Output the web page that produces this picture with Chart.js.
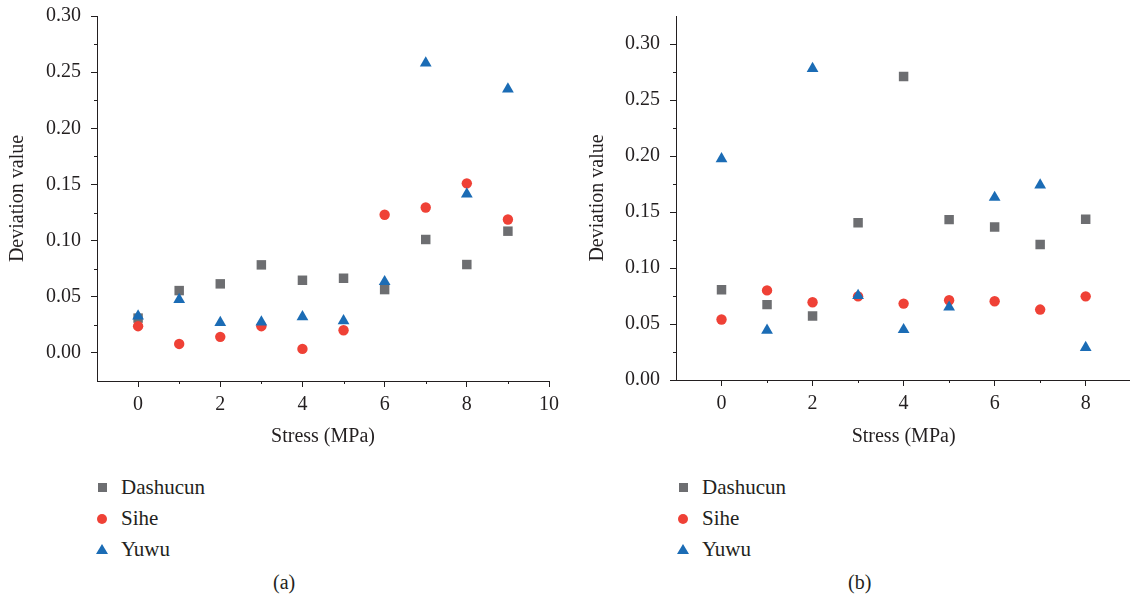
<!DOCTYPE html>
<html>
<head>
<meta charset="utf-8">
<script src="https://cdn.jsdelivr.net/npm/chart.js@4/dist/chart.umd.min.js"></script>
<style>
  html, body { margin: 0; padding: 0; background: #fff; overflow: hidden; }
  body { width: 1130px; height: 601px; position: relative; font-family: "Liberation Serif", "DejaVu Serif", serif; color: #231f20; }
  canvas { position: absolute; top: 0; }
  #chart-a { left: 0; }
  #chart-b { left: 570px; }
  .legend { position: absolute; top: 474px; font-size: 21px; }
  .legend .row { position: relative; height: 31px; line-height: 26px; padding-left: 24px; }
  .legend .mk { position: absolute; left: 0; }
  .mk.sq { width: 9px; height: 9px; top: 9px; left: 1px; background: #6d6e71; }
  .mk.ci { width: 10px; height: 10px; top: 9px; left: 0; border-radius: 50%; background: #ef4136; }
  .mk.tr { width: 0; height: 0; top: 8px; left: -1px; border-left: 6px solid transparent; border-right: 6px solid transparent; border-bottom: 10px solid #1b6cb5; }
  .caption { position: absolute; top: 571px; font-size: 20px; }
</style>
</head>
<body>
<canvas id="chart-a" width="560" height="460"></canvas>
<canvas id="chart-b" width="568" height="460"></canvas>

<div class="legend" style="left:97px">
  <div class="row"><span class="mk sq"></span>Dashucun</div>
  <div class="row"><span class="mk ci"></span>Sihe</div>
  <div class="row"><span class="mk tr"></span>Yuwu</div>
</div>
<div class="legend" style="left:678px">
  <div class="row"><span class="mk sq"></span>Dashucun</div>
  <div class="row"><span class="mk ci"></span>Sihe</div>
  <div class="row"><span class="mk tr"></span>Yuwu</div>
</div>
<div class="caption" style="left:273px">(a)</div>
<div class="caption" style="left:848px">(b)</div>

<script>
// (a) stress steps 0..9
const stressA = [0, 1, 2, 3, 4, 5, 6, 7, 8, 9];
const dashucunA = [0.031, 0.0555, 0.0615, 0.0784, 0.0647, 0.0665, 0.0564, 0.101, 0.0787, 0.1084];
const siheA = [0.0238, 0.008, 0.0143, 0.0238, 0.0036, 0.0202, 0.123, 0.1295, 0.151, 0.1188];
const yuwuA = [0.0328, 0.0475, 0.0271, 0.0275, 0.0322, 0.0285, 0.0634, 0.258, 0.1415, 0.235];

// (b) stress steps 0..8
const stressB = [0, 1, 2, 3, 4, 5, 6, 7, 8];
const dashucunB = [0.0806, 0.0673, 0.0572, 0.1405, 0.271, 0.1432, 0.1367, 0.121, 0.1435];
const siheB = [0.054, 0.080, 0.0694, 0.0747, 0.0682, 0.0712, 0.0703, 0.0629, 0.0747];
const yuwuB = [0.1975, 0.0443, 0.278, 0.0754, 0.0449, 0.065, 0.163, 0.174, 0.029];

// axis ticks
const xTicksA = [0, 2, 4, 6, 8, 10];
const xMinorA = [1, 3, 5, 7, 9];
const xTicksB = [0, 2, 4, 6, 8];
const xMinorB = [1, 3, 5, 7];
const yTicks = [0, 0.05, 0.10, 0.15, 0.20, 0.25, 0.30];
const yMinor = [0.025, 0.075, 0.125, 0.175, 0.225, 0.275];

const INK = '#231f20';
const GRAY = '#6d6e71', RED = '#ef4136', BLUE = '#1b6cb5';
const FONT = { family: '"Liberation Serif", "DejaVu Serif", serif', size: 20 };

// short outward ticks between the labelled ones
const minorTicks = {
  id: 'minorTicks',
  afterDraw(chart, args, opts) {
    const { ctx, scales: { x, y } } = chart;
    ctx.save();
    ctx.strokeStyle = INK;
    ctx.lineWidth = 1;
    ctx.beginPath();
    (opts.x || []).forEach(v => {
      const px = Math.round(x.getPixelForValue(v)) + 0.5;
      ctx.moveTo(px, x.top); ctx.lineTo(px, x.top + 3);
    });
    (opts.y || []).forEach(v => {
      const py = Math.round(y.getPixelForValue(v)) + 0.5;
      ctx.moveTo(y.right, py); ctx.lineTo(y.right - 3, py);
    });
    ctx.stroke();
    ctx.restore();
  }
};

const pts = (xs, ys) => xs.map((x, i) => ({ x, y: ys[i] }));

function series(xs, d, s, y) {
  return [
    { label: 'Dashucun', data: pts(xs, d), pointStyle: 'rect', pointRadius: 6.7, backgroundColor: GRAY, borderWidth: 0, order: 3 },
    { label: 'Sihe', data: pts(xs, s), pointStyle: 'circle', pointRadius: 5.2, backgroundColor: RED, borderWidth: 0, order: 2 },
    { label: 'Yuwu', data: pts(xs, y), pointStyle: 'triangle', pointRadius: 6.8, backgroundColor: BLUE, borderWidth: 0, order: 1 }
  ];
}

// labels may hang past the plot edges, don't let them shrink the plot
function noOverflow(sc) {
  sc.paddingTop = 0; sc.paddingBottom = 0;
  sc.paddingLeft = 0; sc.paddingRight = 0;
}

function makeChart(id, cfg) {
  return new Chart(document.getElementById(id), {
    type: 'scatter',
    data: { datasets: series(cfg.xs, cfg.d, cfg.s, cfg.y) },
    options: {
      responsive: false,
      animation: false,
      devicePixelRatio: 1,
      layout: { padding: { top: 16, right: cfg.padRight, left: 0, bottom: 0 } },
      plugins: {
        legend: { display: false },
        tooltip: { enabled: false },
        minorTicks: { x: cfg.xMinor, y: yMinor }
      },
      scales: {
        x: {
          type: 'linear', min: -1, max: cfg.xMax,
          afterBuildTicks: sc => { sc.ticks = cfg.xTicks.map(v => ({ value: v })); },
          afterFit: sc => { sc.height = cfg.xHeight; noOverflow(sc); },
          grid: { drawOnChartArea: false, tickLength: 6, color: INK },
          border: { color: INK, width: 1 },
          ticks: { color: INK, font: FONT, padding: 6, maxRotation: 0 },
          title: { display: true, text: 'Stress (MPa)', color: INK, font: FONT, padding: { top: 0, bottom: 11 } }
        },
        y: {
          type: 'linear', min: cfg.yMin, max: cfg.yMax,
          afterBuildTicks: sc => { sc.ticks = yTicks.map(v => ({ value: v })); },
          afterFit: sc => { sc.width = cfg.yWidth; noOverflow(sc); },
          grid: { drawOnChartArea: false, tickLength: 6, color: INK },
          border: { color: INK, width: 1 },
          ticks: { color: INK, font: FONT, padding: 10, callback: v => v.toFixed(2) },
          title: { display: true, text: 'Deviation value', color: INK, font: FONT, padding: { top: cfg.yTitlePad, bottom: 0 } }
        }
      }
    },
    plugins: [minorTicks]
  });
}

makeChart('chart-a', {
  xs: stressA, d: dashucunA, s: siheA, y: yuwuA,
  xMax: 10, xTicks: xTicksA, xMinor: xMinorA,
  yMin: -0.025, yMax: 0.30,
  xHeight: 79, yWidth: 97, yTitlePad: 6, padRight: 11
});

makeChart('chart-b', {
  xs: stressB, d: dashucunB, s: siheB, y: yuwuB,
  xMax: 9, xTicks: xTicksB, xMinor: xMinorB,
  yMin: 0, yMax: 0.325,
  xHeight: 80, yWidth: 106, yTitlePad: 16, padRight: 0
});
</script>
</body>
</html>
